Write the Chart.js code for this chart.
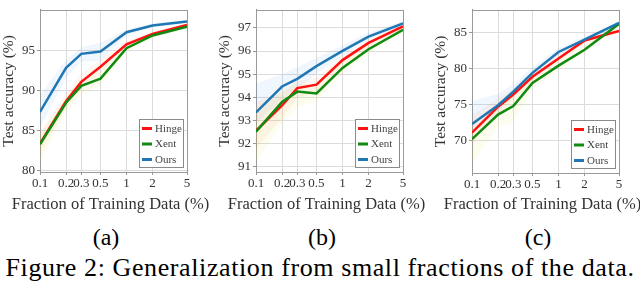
<!DOCTYPE html>
<html><head><meta charset="utf-8">
<script src="https://cdn.jsdelivr.net/npm/chart.js@4/dist/chart.umd.min.js"></script>
<style>
html,body{margin:0;padding:0;background:#fff;width:640px;height:287px;overflow:hidden;}
.pane{position:absolute;top:0;width:216px;height:220px;}
.cap{position:absolute;font-family:'Liberation Serif',serif;color:#000;text-align:center;white-space:nowrap;}
</style></head>
<body>
<div class="pane" style="left:0px"><canvas id="ca"></canvas></div>
<div class="pane" style="left:216px"><canvas id="cb"></canvas></div>
<div class="pane" style="left:432px"><canvas id="cc"></canvas></div>
<div class="cap" style="left:56px;width:100px;top:224px;font-size:24px;">(a)</div>
<div class="cap" style="left:272px;width:100px;top:224px;font-size:24px;">(b)</div>
<div class="cap" style="left:488px;width:100px;top:224px;font-size:24px;">(c)</div>
<div class="cap" style="left:0px;width:640px;top:253px;font-size:26px;letter-spacing:0.6px;">Figure 2: Generalization from small fractions of the data.</div>
<script>
const fractions = [0.1, 0.2, 0.3, 0.5, 1, 2, 5];
const fractionLabels = ['0.1', '0.2', '0.3', '0.5', '1', '2', '5'];
const seriesNames = ['Hinge', 'Xent', 'Ours'];
const xTitle = 'Fraction of Training Data (%)';
const yTitle = 'Test accuracy (%)';

// Panel (a)
const hingeA = [83.4, 88.7, 91.1, 93.0, 95.8, 97.1, 98.2];
const xentA  = [83.3, 88.5, 90.6, 91.5, 95.3, 96.9, 98.0];
const oursA  = [87.35, 92.85, 94.6, 94.9, 97.3, 98.15, 98.65];
const hingeALow  = [82.2, 87.8, 90.3, 92.2, 95.4, 96.9, 98.0];
const hingeAHigh = [84.8, 89.6, 92.2, 93.8, 96.2, 97.4, 98.4];
const xentALow   = [81.2, 87.3, 89.6, 90.6, 94.8, 96.6, 97.8];
const xentAHigh  = [84.6, 89.2, 91.4, 92.4, 95.8, 97.2, 98.2];
const oursALow   = [85.4, 91.6, 93.6, 93.7, 96.9, 97.9, 98.5];
const oursAHigh  = [89.4, 93.9, 95.4, 96.0, 97.6, 98.4, 98.85];
const yTicksA = [80, 85, 90, 95];

// Panel (b)
const hingeB = [92.56, 93.65, 94.4, 94.55, 95.61, 96.35, 97.06];
const xentB  = [92.52, 93.8, 94.25, 94.17, 95.27, 96.08, 96.92];
const oursB  = [93.35, 94.47, 94.8, 95.35, 96.01, 96.62, 97.19];
const hingeBLow  = [91.8, 93.1, 94.0, 94.2, 95.4, 96.1, 96.95];
const hingeBHigh = [93.8, 94.2, 94.7, 94.85, 95.8, 96.5, 97.15];
const xentBLow   = [91.2, 92.9, 93.6, 93.8, 95.0, 95.85, 96.8];
const xentBHigh  = [93.6, 94.3, 94.6, 94.5, 95.55, 96.3, 97.02];
const oursBLow   = [92.9, 93.9, 94.4, 95.0, 95.8, 96.5, 97.1];
const oursBHigh  = [94.6, 95.0, 95.3, 95.7, 96.25, 96.8, 97.3];
const yTicksB = [91, 92, 93, 94, 95, 96, 97];

// Panel (c)
const hingeC = [71.1, 74.7, 76.4, 78.85, 81.4, 83.9, 85.2];
const xentC  = [70.2, 73.6, 74.8, 78.0, 80.4, 82.6, 86.2];
const oursC  = [72.3, 74.9, 76.8, 79.4, 82.3, 84.0, 86.35];
const hingeCLow  = [69.5, 73.5, 75.5, 78.2, 80.9, 83.4, 84.9];
const hingeCHigh = [73.5, 75.8, 77.2, 79.5, 82.0, 84.2, 85.6];
const xentCLow   = [66.8, 72.0, 72.5, 77.2, 79.8, 82.2, 85.8];
const xentCHigh  = [72.5, 75.0, 76.5, 78.8, 81.3, 83.2, 86.4];
const oursCLow   = [71.0, 74.0, 76.0, 78.8, 81.8, 83.6, 86.0];
const oursCHigh  = [75.5, 76.5, 77.8, 80.2, 82.8, 84.4, 86.6];
const yTicksC = [70, 75, 80, 85];

Chart.defaults.font.family = "'Liberation Serif', 'Times New Roman', serif";
Chart.defaults.color = '#333';

const lineColors = ['#ff1111', '#108a10', '#1f77b4'];
const bandColors = ['rgba(255,120,60,0.07)', 'rgba(215,225,40,0.08)', 'rgba(60,140,230,0.08)'];

const framePlugin = {
  id: 'frame',
  beforeDatasetsDraw(chart) {
    const {ctx, chartArea: a} = chart;
    ctx.save();
    ctx.strokeStyle = '#9a9a9a';
    ctx.lineWidth = 1;
    ctx.strokeRect(Math.round(a.left) + 0.5, Math.round(a.top) + 0.5, Math.round(a.right - a.left), Math.round(a.bottom - a.top));
    ctx.restore();
  }
};

// x-axis title drawn without Chart.js' maxWidth squeeze (the reference title is wider than the plot)
const xTitlePlugin = {
  id: 'xTitle',
  afterDraw(chart) {
    const {ctx, chartArea: a} = chart;
    ctx.save();
    ctx.fillStyle = '#333';
    ctx.font = "16.5px 'Liberation Serif', serif";
    ctx.textAlign = 'center';
    ctx.textBaseline = 'middle';
    ctx.fillText(xTitle, (a.left + a.right) / 2 - 3, 205);
    ctx.restore();
  }
};

const legendPlugin = {
  id: 'boxLegend',
  afterDatasetsDraw(chart) {
    const {ctx, chartArea: a} = chart;
    const w = 44, h = 48;
    const x = Math.round(a.right - 4 - w), y = Math.round(a.bottom - 5 - h);
    ctx.save();
    ctx.fillStyle = '#fff';
    ctx.fillRect(x, y, w, h);
    ctx.strokeStyle = '#8a8a8a';
    ctx.lineWidth = 1;
    ctx.strokeRect(x + 0.5, y + 0.5, w, h);
    const lines = chart.data.datasets.filter(d => d.isLine);
    const offs = [9.5, 25, 40.5];
    lines.forEach((d, i) => {
      const yy = y + offs[i];
      ctx.strokeStyle = d.borderColor;
      ctx.lineWidth = 3;
      ctx.beginPath(); ctx.moveTo(x + 3, yy); ctx.lineTo(x + 13, yy); ctx.stroke();
      ctx.fillStyle = '#444';
      ctx.font = "11px 'Liberation Serif', serif";
      ctx.textBaseline = 'middle';
      ctx.fillText(d.label, x + 16, yy + 0.5);
    });
    ctx.restore();
  }
};

function makeChart(id, series, bands, yTicks, ymin, ymax, topPad, xHeight) {
  const datasets = [];
  bands.forEach((b, i) => {
    datasets.push({label: '', data: b[0], borderWidth: 0, pointRadius: 0, fill: false, order: 10});
    datasets.push({label: '', data: b[1], borderWidth: 0, pointRadius: 0, fill: '-1', backgroundColor: bandColors[i], order: 10});
  });
  series.forEach((s, i) => {
    datasets.push({label: seriesNames[i], isLine: true, data: s, borderColor: lineColors[i], borderWidth: 2.5,
      pointRadius: 0, fill: false, tension: 0, order: 3 - i});
  });
  new Chart(document.getElementById(id), {
    type: 'line',
    data: {labels: fractions, datasets: datasets.map(d => ({...d, data: d.data.map((v, k) => ({x: fractions[k], y: v}))}))},
    options: {
      responsive: false, animation: false, devicePixelRatio: 1,
      layout: {padding: {top: topPad, right: 29, left: 0, bottom: 0}},
      plugins: {legend: {display: false}, tooltip: {enabled: false}},
      scales: {
        x: {
          type: 'logarithmic', min: 0.1, max: 5,
          afterBuildTicks(scale) { scale.ticks = fractions.map(v => ({value: v})); },
          afterFit(scale) { scale.height = xHeight; },
          ticks: {autoSkip: false, maxRotation: 0, minRotation: 0, padding: 1,
            font: {size: 13}, color: '#333',
            callback: (v, i) => fractionLabels[i]},
          grid: {color: '#dcdcdc', lineWidth: 1, tickLength: 3, tickColor: '#999'},
          border: {color: '#9a9a9a'},
          title: {display: false}
        },
        y: {
          type: 'linear', min: ymin, max: ymax,
          afterBuildTicks(scale) { scale.ticks = yTicks.map(v => ({value: v})); },
          afterFit(scale) { scale.width = 40; },
          ticks: {padding: 2, font: {size: 13}, color: '#333'},
          grid: {color: '#dcdcdc', lineWidth: 1, tickLength: 3, tickColor: '#999'},
          border: {color: '#9a9a9a'},
          title: {display: true, text: yTitle, font: {size: 15.5}, color: '#333', padding: {top: 0, bottom: 0}}
        }
      }
    },
    plugins: [framePlugin, legendPlugin, xTitlePlugin]
  });
}

function setup(id) { const c = document.getElementById(id); c.width = 216; c.height = 220; c.style.width = '216px'; c.style.height = '220px'; }
['ca', 'cb', 'cc'].forEach(setup);

makeChart('ca', [hingeA, xentA, oursA], [[hingeALow, hingeAHigh], [xentALow, xentAHigh], [oursALow, oursAHigh]], yTicksA, 79.85, 100.1, 1, 48);
makeChart('cb', [hingeB, xentB, oursB], [[hingeBLow, hingeBHigh], [xentBLow, xentBHigh], [oursBLow, oursBHigh]], yTicksB, 90.78, 97.78, 1, 48);
makeChart('cc', [hingeC, xentC, oursC], [[hingeCLow, hingeCHigh], [xentCLow, xentCHigh], [oursCLow, oursCHigh]], yTicksC, 65.5, 88.15, 2, 47);
</script>
</body></html>
